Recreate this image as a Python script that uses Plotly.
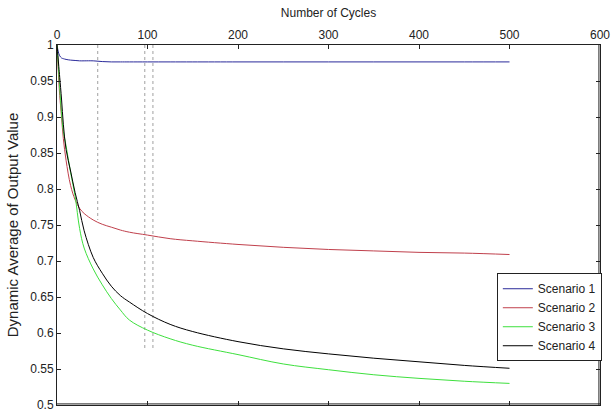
import plotly.graph_objects as go

cycles = [0, 1, 2, 3, 5, 7, 10, 15, 20, 25, 30, 40, 50, 60, 70, 80, 100, 125, 150, 200, 250, 300, 350, 400, 450, 500]
scenario1 = [1.0, 0.993, 0.988, 0.985, 0.982, 0.981, 0.980, 0.979, 0.9785, 0.978, 0.978, 0.978, 0.977, 0.9765, 0.9765, 0.9765, 0.9765, 0.9765, 0.9765, 0.9765, 0.9765, 0.9765, 0.9765, 0.9765, 0.9765, 0.9765]
scenario2 = [1.0, 0.975, 0.95, 0.93, 0.90, 0.87, 0.84, 0.805, 0.785, 0.773, 0.766, 0.757, 0.751, 0.747, 0.743, 0.740, 0.736, 0.731, 0.728, 0.723, 0.719, 0.716, 0.714, 0.712, 0.711, 0.709]
scenario3 = [1.0, 0.98, 0.96, 0.94, 0.905, 0.88, 0.86, 0.823, 0.79, 0.745, 0.718, 0.689, 0.667, 0.648, 0.632, 0.618, 0.604, 0.592, 0.583, 0.570, 0.557, 0.549, 0.542, 0.537, 0.533, 0.530]
scenario4 = [1.0, 0.985, 0.97, 0.955, 0.925, 0.89, 0.855, 0.825, 0.795, 0.77, 0.742, 0.705, 0.683, 0.665, 0.652, 0.643, 0.627, 0.612, 0.602, 0.588, 0.578, 0.571, 0.565, 0.560, 0.555, 0.551]
names = ["Scenario 1", "Scenario 2", "Scenario 3", "Scenario 4"]
colors = ["#2a2a9a", "#c0404c", "#3ee03e", "#000000"]

x_ticks = [0, 100, 200, 300, 400, 500, 600]
marker_x = [45, 97, 106]
marker_bottom = [0.757, 0.575, 0.575]
marker_top = 1.0

fig = go.Figure()
for mx, mb in zip(marker_x, marker_bottom):
    fig.add_trace(go.Scatter(x=[mx, mx], y=[marker_top, mb], mode="lines",
                             line=dict(color="#a0a0a0", width=1, dash="dot"),
                             showlegend=False, hoverinfo="skip"))
for name, ys, c in zip(names, [scenario1, scenario2, scenario3, scenario4], colors):
    fig.add_trace(go.Scatter(x=cycles, y=ys, mode="lines", name=name,
                             line=dict(color=c, width=1, shape="spline")))

common = dict(ticks="inside", ticklen=4, tickcolor="#222", showline=True, linecolor="#222",
              linewidth=1, showgrid=False, zeroline=False, automargin=False)

fig.update_layout(
    width=612, height=414,
    margin=dict(l=57, r=12, t=45, b=9),
    paper_bgcolor="white", plot_bgcolor="white",
    font=dict(family="Liberation Sans, Arial, sans-serif", size=12, color="#222"),
    showlegend=True,
    legend=dict(x=0.81, y=0.366, xanchor="left", yanchor="top", itemwidth=30,
                bgcolor="white", bordercolor="#222", borderwidth=1,
                font=dict(size=12, color="#222"), tracegroupgap=0),
    xaxis=dict(range=[0, 600], side="top", tickvals=x_ticks, mirror="ticks",
               title=dict(text="Number of Cycles", standoff=8, font=dict(size=12)), **common),
    yaxis=dict(range=[0.5, 1.0], dtick=0.05, tick0=0.5, tickformat="~g", mirror="ticks",
               title=dict(text="Dynamic Average of Output Value", standoff=7, font=dict(size=15)),
               **common),
    shapes=[
        dict(type="line", xref="paper", yref="paper", x0=0.998, x1=0.998, y0=0, y1=1,
             line=dict(color="#222", width=1), layer="above"),
        dict(type="line", xref="paper", yref="paper", x0=0, x1=1, y0=0.003, y1=0.003,
             line=dict(color="#222", width=1), layer="above"),
    ],
)

fig.write_html("out.html", config={"displayModeBar": False},
               post_script="document.body.style.margin='0';document.body.style.overflow='hidden';document.documentElement.style.overflow='hidden';")
